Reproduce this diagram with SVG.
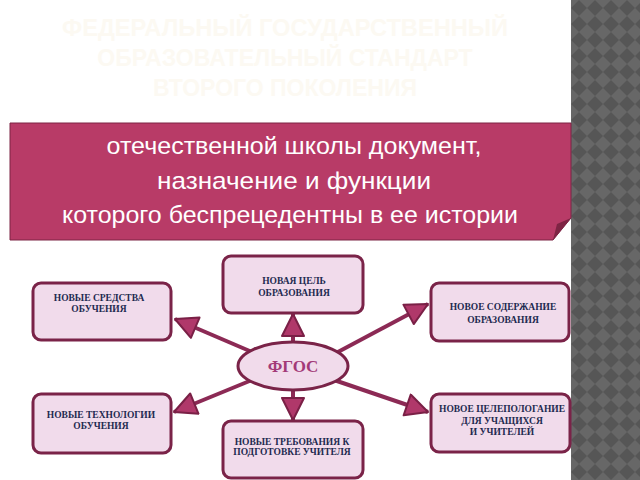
<svg xmlns="http://www.w3.org/2000/svg" width="640" height="480" viewBox="0 0 640 480">
<defs>
<pattern id="diam" width="16" height="16" patternUnits="userSpaceOnUse" x="571" y="0">
<rect width="16" height="16" fill="#676767"/>
<polygon points="8,0 16,8 8,16 0,8" fill="#565656"/>
</pattern>
<marker id="ah" markerUnits="userSpaceOnUse" markerWidth="30" markerHeight="30" refX="24" refY="12" orient="auto">
<polygon points="2,1 24,12 2,23" fill="#b0386a" stroke="#7a2046" stroke-width="2" stroke-linejoin="round"/>
</marker>
<style>
.box{fill:#f1dbeb;stroke:#7a2348;stroke-width:3}
.bt{font-family:"Liberation Serif",serif;font-weight:bold;font-size:9.5px;fill:#1e2a50;text-anchor:middle}
.con{stroke:#8c2a55;stroke-width:4;fill:none;marker-end:url(#ah)}
.title{font-family:"Liberation Sans",Arial,sans-serif;font-weight:bold;font-size:23px;fill:#fcf9f2;text-anchor:middle}
.bn{font-family:"Liberation Sans",Arial,sans-serif;font-size:24px;fill:#ffffff;text-anchor:middle}
</style>
</defs>
<rect width="640" height="480" fill="#ffffff"/>
<rect x="571" y="0" width="69" height="480" fill="url(#diam)"/>
<g id="title">
<text class="title" x="285" y="36" textLength="446" lengthAdjust="spacingAndGlyphs">ФЕДЕРАЛЬНЫЙ ГОСУДАРСТВЕННЫЙ</text>
<text class="title" x="285" y="66">ОБРАЗОВАТЕЛЬНЫЙ  СТАНДАРТ</text>
<text class="title" x="285" y="96">ВТОРОГО ПОКОЛЕНИЯ</text>
</g>
<g id="banner">
<polygon points="10,123 571,123 571,218 553,240 10,240" fill="#b83b67" stroke="#7c2445" stroke-width="1"/>
<polygon points="571,218 553,240 557,224" fill="#7e2444"/>
<text class="bn" x="294" y="154" textLength="375" lengthAdjust="spacingAndGlyphs">отечественной школы документ,</text>
<text class="bn" x="294" y="189" textLength="274" lengthAdjust="spacingAndGlyphs">назначение и функции</text>
<text class="bn" x="290" y="223" textLength="456" lengthAdjust="spacingAndGlyphs">которого беспрецедентны в ее истории</text>
</g>
<g id="connectors">
<line class="con" x1="293" y1="343" x2="293" y2="314"/>
<line class="con" x1="293" y1="390" x2="293" y2="420"/>
<line class="con" x1="252" y1="352" x2="175" y2="319"/>
<line class="con" x1="336" y1="353" x2="428" y2="304"/>
<line class="con" x1="252" y1="380" x2="174" y2="412"/>
<line class="con" x1="334" y1="380" x2="428" y2="412"/>
</g>
<g id="n-center">
<ellipse cx="293" cy="366" rx="55" ry="24" fill="#f1dbeb" stroke="#7a2348" stroke-width="3"/>
<text x="293" y="372" font-family="Liberation Serif,serif" font-weight="bold" font-size="17" fill="#a33a78" text-anchor="middle">ФГОС</text>
</g>
<g id="n-goal">
<rect class="box" x="223" y="256" width="140" height="57" rx="8"/>
<text class="bt" x="294" y="284">НОВАЯ ЦЕЛЬ</text>
<text class="bt" x="294" y="296">ОБРАЗОВАНИЯ</text>
</g>
<g id="n-means">
<rect class="box" x="33" y="283" width="138" height="57" rx="8"/>
<text class="bt" x="99" y="301">НОВЫЕ СРЕДСТВА</text>
<text class="bt" x="99" y="312">ОБУЧЕНИЯ</text>
</g>
<g id="n-content">
<rect class="box" x="431" y="283" width="138" height="58" rx="8"/>
<text class="bt" x="503" y="310">НОВОЕ СОДЕРЖАНИЕ</text>
<text class="bt" x="503" y="323">ОБРАЗОВАНИЯ</text>
</g>
<g id="n-tech">
<rect class="box" x="33" y="394" width="138" height="59" rx="8"/>
<text class="bt" x="101" y="418">НОВЫЕ ТЕХНОЛОГИИ</text>
<text class="bt" x="101" y="429">ОБУЧЕНИЯ</text>
</g>
<g id="n-req">
<rect class="box" x="223" y="421" width="140" height="57" rx="8"/>
<text class="bt" x="292" y="445">НОВЫЕ ТРЕБОВАНИЯ К</text>
<text class="bt" x="292" y="455">ПОДГОТОВКЕ УЧИТЕЛЯ</text>
</g>
<g id="n-target">
<rect class="box" x="431" y="394" width="139" height="58" rx="8"/>
<text class="bt" x="502" y="412">НОВОЕ ЦЕЛЕПОЛОГАНИЕ</text>
<text class="bt" x="502" y="424">ДЛЯ УЧАЩИХСЯ</text>
<text class="bt" x="502" y="435">И УЧИТЕЛЕЙ</text>
</g>
</svg>
